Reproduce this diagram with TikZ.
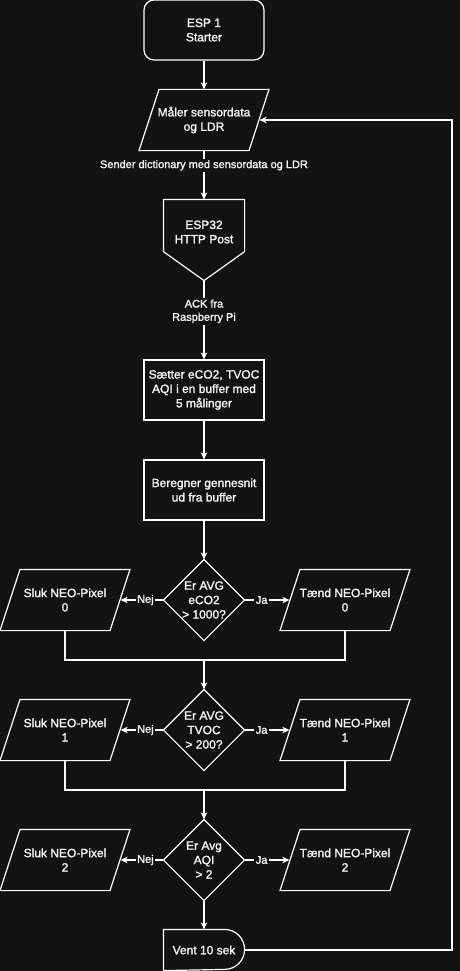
\documentclass[tikz,border=0pt]{standalone}
\usepackage{fontspec}
\setmainfont{Liberation Sans}
\newfontfamily\heavyfont{Liberation Sans}[FakeBold=1.6]
\usetikzlibrary{arrows.meta,calc}
\definecolor{bg}{HTML}{121212}
\definecolor{ink}{HTML}{F4F4F4}

% outlines drawn around invisible rectangular nodes
\newcommand\drawpara[1]{\draw ([xshift=-45pt]#1.north) -- ([xshift=65pt]#1.north) -- ([xshift=45pt]#1.south) -- ([xshift=-65pt]#1.south) -- cycle;}
\newcommand\drawdiam[1]{\draw (#1.north) -- (#1.east) -- (#1.south) -- (#1.west) -- cycle;}

\begin{document}
\begin{tikzpicture}[x=1pt, y=-1pt, white, line width=1.2pt,
  every node/.style={align=center, inner sep=0pt, text=ink},
  font=\heavyfont\fontsize{12}{14.4}\selectfont,
  arr/.style={-{Stealth[length=7pt,width=6.5pt,inset=2pt]}},
  lbl/.style={fill=bg, inner sep=1.5pt, font=\heavyfont\fontsize{11}{13.2}\selectfont},
  procbox/.style={draw, minimum width=120pt, minimum height=60pt},
  startbox/.style={procbox, rounded corners=10pt},
  parabox/.style={minimum width=110pt, minimum height=60pt},
  diambox/.style={minimum width=80pt, minimum height=80pt},
]
% canvas
\fill[bg] (0,0) rectangle (460,971);
\useasboundingbox (0,0) rectangle (460,971);

% main column
\node[startbox] (start) at (204,30) {ESP 1\\Starter};
\node[parabox] (maal) at (204,120) {Måler sensordata\\og LDR};
\drawpara{maal}

\node[minimum width=80pt, minimum height=80pt] (esp) at (204,240) {};
\draw (esp.north west) -- (esp.north east) -- ($(esp.south east)+(0,-29)$) -- (esp.south) -- ($(esp.south west)+(0,-29)$) -- cycle;
\node (esptxt) at (204,232) {ESP32\\HTTP Post};

\node[procbox] (buffer) at (204,390) {Sætter eCO2, TVOC\\AQI i en buffer med\\5 målinger};
\node[procbox] (avg) at (204,490) {Beregner gennesnit\\ud fra buffer};

% decision 1
\node[diambox] (d1) at (204,600) {Er AVG\\eCO2\\> 1000?};
\drawdiam{d1}
\node[parabox] (l1) at (65,600) {Sluk NEO-Pixel\\0};
\drawpara{l1}
\node[parabox] (r1) at (345,600) {Tænd NEO-Pixel\\0};
\drawpara{r1}

% decision 2
\node[diambox] (d2) at (204,730) {Er AVG\\TVOC\\> 200?};
\drawdiam{d2}
\node[parabox] (l2) at (65,730) {Sluk NEO-Pixel\\1};
\drawpara{l2}
\node[parabox] (r2) at (345,730) {Tænd NEO-Pixel\\1};
\drawpara{r2}

% decision 3
\node[diambox] (d3) at (204,860) {Er Avg\\AQI\\> 2};
\drawdiam{d3}
\node[parabox] (l3) at (65,860) {Sluk NEO-Pixel\\2};
\drawpara{l3}
\node[parabox] (r3) at (345,860) {Tænd NEO-Pixel\\2};
\drawpara{r3}

% delay
\node[minimum width=80pt, minimum height=40pt] (vent) at (204,950) {Vent 10 sek};
\draw (vent.north west) -- ($(vent.north east)+(-20,0)$) arc (-90:90:20) -- (vent.south west) -- cycle;

% connectors
\draw[arr] (start.south) -- (maal.north);
\draw[arr] (maal.south) -- node[lbl, pos=0.3] {Sender dictionary med sensordata og LDR} (esp.north);
\draw[arr] (esp.south) -- node[lbl, pos=0.39] {ACK fra\\Raspberry Pi} (buffer.north);
\draw[arr] (buffer.south) -- (avg.north);
\draw[arr] (avg.south) -- (d1.north);

\draw[arr] (d1.west) -- node[lbl, pos=0.42] {Nej} (l1.east);
\draw[arr] (d1.east) -- node[lbl, pos=0.38] {Ja} (r1.west);
\coordinate (m1) at (204,660);
\draw (l1.south) |- (m1) -| (r1.south);
\draw[arr] (m1) -- (d2.north);

\draw[arr] (d2.west) -- node[lbl, pos=0.42] {Nej} (l2.east);
\draw[arr] (d2.east) -- node[lbl, pos=0.38] {Ja} (r2.west);
\coordinate (m2) at (204,790);
\draw (l2.south) |- (m2) -| (r2.south);
\draw[arr] (m2) -- (d3.north);

\draw[arr] (d3.west) -- node[lbl, pos=0.42] {Nej} (l3.east);
\draw[arr] (d3.east) -- node[lbl, pos=0.38] {Ja} (r3.west);
\draw[arr] (d3.south) -- (vent.north);

% loop back to the measurement step
\coordinate (lb) at (452,950);
\coordinate (lt) at (452,120);
\draw[arr] (vent.east) -- (lb) -- (lt) -- (maal.east);
\end{tikzpicture}
\end{document}
